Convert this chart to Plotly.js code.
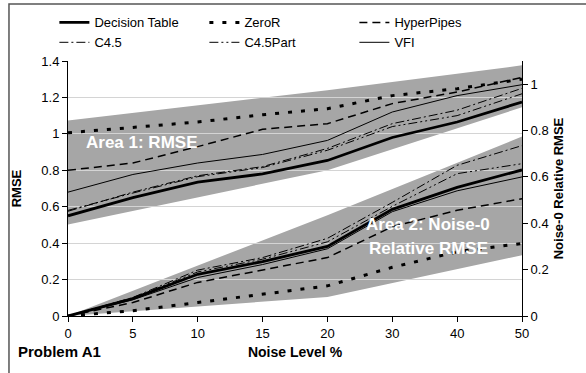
<!DOCTYPE html>
<html><head><meta charset="utf-8">
<script src="https://cdn.plot.ly/plotly-3.0.1.min.js"></script>
<style>html,body{margin:0;padding:0;background:#fff}#chart{width:586px;height:373px}</style>
</head><body><div id="chart"></div>
<script>
// ---- data ----
const categories = ['0','5','10','15','20','30','40','50'];
const seriesNames = ['Decision Table','ZeroR','HyperPipes','C4.5','C4.5Part','VFI'];

// Area 1: RMSE (left axis)
const rmseDecisionTable = [0.55, 0.65, 0.735, 0.78, 0.854, 0.98, 1.065, 1.175];
const rmseZeroR         = [1.006, 1.035, 1.065, 1.105, 1.138, 1.21, 1.248, 1.30];
const rmseHyperPipes    = [0.80, 0.84, 0.93, 1.025, 1.056, 1.166, 1.23, 1.31];
const rmseC45           = [0.575, 0.68, 0.77, 0.82, 0.92, 1.056, 1.13, 1.25];
const rmseC45Part       = [0.58, 0.675, 0.765, 0.815, 0.91, 1.04, 1.10, 1.22];
const rmseVFI           = [0.68, 0.777, 0.84, 0.887, 0.964, 1.12, 1.21, 1.27];

// Area 2: Noise-0 relative RMSE (right axis)
const relDecisionTable = [0, 0.075, 0.18, 0.235, 0.30, 0.46, 0.555, 0.63];
const relZeroR         = [0, 0.023, 0.058, 0.095, 0.13, 0.21, 0.277, 0.313];
const relHyperPipes    = [0, 0.058, 0.145, 0.198, 0.252, 0.385, 0.456, 0.506];
const relC45           = [0, 0.08, 0.198, 0.252, 0.335, 0.49, 0.65, 0.735];
const relC45Part       = [0, 0.078, 0.19, 0.245, 0.32, 0.473, 0.614, 0.657];
const relVFI           = [0, 0.07, 0.166, 0.222, 0.29, 0.45, 0.54, 0.60];

// shaded areas
const bandCategories = ['0','20','50'];
const area1Upper = [1.074, 1.24, 1.376];
const area1Lower = [0.503, 0.80, 1.146];
const area2Upper = [0, 0.435, 0.774];
const area2Lower = [0, 0.082, 0.262];

const leftTicks  = [0, 0.2, 0.4, 0.6, 0.8, 1, 1.2, 1.4];
const rightTicks = [0, 0.2, 0.4, 0.6, 0.8, 1];

// ---- styles ----
const FONT = 'Arial, "Liberation Sans", sans-serif';
const lineStyles = [
  {width: 2.8, dash: 'solid'},
  {width: 3,   dash: '4px,9px'},
  {width: 1.5, dash: '8px,5px'},
  {width: 1,   dash: '9px,3px,2px,3px'},
  {width: 1,   dash: '9px,3px,2px,3px,2px,3px'},
  {width: 1,   dash: 'solid'}
];
const bandColor = '#a6a6a6';

const rmseSeries = [rmseDecisionTable, rmseZeroR, rmseHyperPipes, rmseC45, rmseC45Part, rmseVFI];
const relSeries  = [relDecisionTable, relZeroR, relHyperPipes, relC45, relC45Part, relVFI];

function polygon(lower, upper) {
  return {
    x: bandCategories.concat(bandCategories.slice().reverse()),
    y: lower.concat(upper.slice().reverse())
  };
}
const p1 = polygon(area1Lower, area1Upper);
const p2 = polygon(area2Lower, area2Upper);

const traces = [
  {x: p1.x, y: p1.y, xaxis: 'x', yaxis: 'y', mode: 'lines', fill: 'toself',
   fillcolor: bandColor, line: {width: 0, color: bandColor}, showlegend: false, hoverinfo: 'skip'},
  {x: p2.x, y: p2.y, xaxis: 'x', yaxis: 'y2', mode: 'lines', fill: 'toself',
   fillcolor: bandColor, line: {width: 0, color: bandColor}, showlegend: false, hoverinfo: 'skip'}
];
seriesNames.forEach((name, i) => {
  traces.push({x: categories, y: rmseSeries[i], name: name, legendgroup: name,
    xaxis: 'x2', yaxis: 'y3', mode: 'lines',
    line: {color: '#000', width: lineStyles[i].width, dash: lineStyles[i].dash}});
});
seriesNames.forEach((name, i) => {
  traces.push({x: categories, y: relSeries[i], name: name, legendgroup: name, showlegend: false,
    xaxis: 'x2', yaxis: 'y4', mode: 'lines',
    line: {color: '#000', width: lineStyles[i].width, dash: lineStyles[i].dash}});
});

const tickFont = {family: FONT, size: 13, color: '#000'};
const titleFont = {family: FONT, size: 13, color: '#000'};
const catAxis = {type: 'category', categoryorder: 'array', categoryarray: categories, range: [0, 7]};

const layout = {
  width: 586, height: 373,
  margin: {l: 68, r: 64, t: 61, b: 57, autoexpand: false},
  paper_bgcolor: '#fff', plot_bgcolor: 'rgba(0,0,0,0)',
  font: {family: FONT, color: '#000'},
  showlegend: true,
  legend: {orientation: 'h', x: -0.03, xanchor: 'left', y: 1.21, yanchor: 'top',
           font: {family: FONT, size: 13, color: '#000'}, bgcolor: 'rgba(0,0,0,0)',
           entrywidthmode: 'pixels', entrywidth: 105, traceorder: 'normal'},
  xaxis: Object.assign({}, catAxis, {domain: [0, 1], anchor: 'y', visible: false, fixedrange: true}),
  yaxis: {range: [0, 1.4], visible: false, anchor: 'x'},
  yaxis2: {range: [0, 1.1], overlaying: 'y', side: 'right', visible: false, anchor: 'x'},
  xaxis2: Object.assign({}, catAxis, {domain: [0, 1], anchor: 'y3',
    showline: true, linecolor: '#000', linewidth: 1, ticks: 'outside', ticklen: 5, tickcolor: '#000',
    showgrid: false, tickfont: tickFont,
    title: {text: '<b>Noise Level %</b>', font: {family: FONT, size: 14, color: '#000'}, standoff: 7}}),
  yaxis3: {range: [0, 1.4], anchor: 'x2', tickvals: leftTicks, ticktext: leftTicks.map(String),
    showgrid: true, gridcolor: '#d4d4d4', gridwidth: 1, zeroline: false,
    showline: true, linecolor: '#000', linewidth: 1, ticks: 'outside', ticklen: 5, tickcolor: '#000',
    tickfont: tickFont, title: {text: '<b>RMSE</b>', font: titleFont, standoff: 16}},
  yaxis4: {range: [0, 1.1], overlaying: 'y3', side: 'right', anchor: 'x2',
    tickvals: rightTicks, ticktext: rightTicks.map(String), showgrid: false, zeroline: false,
    showline: true, linecolor: '#000', linewidth: 1, ticks: 'outside', ticklen: 5, tickcolor: '#000',
    tickfont: tickFont, title: {text: '<b>Noise-0 Relative RMSE</b>', font: titleFont, standoff: 6}},
  shapes: [
    {type: 'rect', xref: 'paper', yref: 'paper', x0: -0.13, x1: 1.2, y0: -0.3, y1: 1.2235,
     line: {color: '#555', width: 1.5}, fillcolor: 'rgba(0,0,0,0)', layer: 'above'}
  ],
  annotations: [
    {xref: 'paper', yref: 'paper', x: 0.161, y: 0.681, xanchor: 'center', yanchor: 'middle', showarrow: false,
     text: '<b>Area 1: RMSE</b>', font: {family: FONT, size: 17, color: '#fff'}},
    {xref: 'paper', yref: 'paper', x: 0.793, y: 0.36, xanchor: 'center', yanchor: 'middle', showarrow: false,
     text: '<b>Area 2: Noise-0</b>', font: {family: FONT, size: 17, color: '#fff'}},
    {xref: 'paper', yref: 'paper', x: 0.793, y: 0.265, xanchor: 'center', yanchor: 'middle', showarrow: false,
     text: '<b>Relative RMSE</b>', font: {family: FONT, size: 17, color: '#fff'}},
    {xref: 'paper', yref: 'paper', x: -0.114, y: -0.139, xanchor: 'left', yanchor: 'middle', showarrow: false,
     text: '<b>Problem A1</b>', font: {family: FONT, size: 15, color: '#000'}}
  ]
};

Plotly.newPlot('chart', traces, layout, {displayModeBar: false, staticPlot: true});
</script></body></html>
